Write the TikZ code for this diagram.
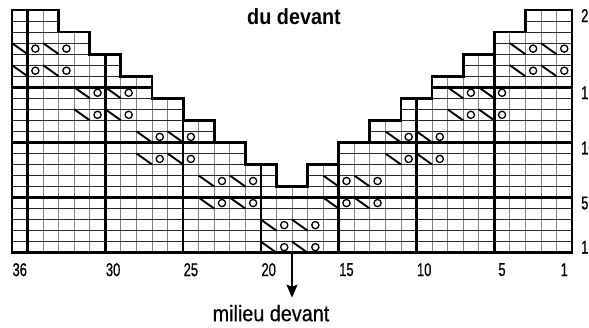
\documentclass[tikz,border=0pt]{standalone}
\usepackage{fontspec}
\setmainfont{Liberation Sans}
\newfontfamily\condfont{Liberation Sans}[FakeStretch=0.7, FakeBold=0.6]
\newfontfamily\midfont{Liberation Sans}[FakeStretch=0.9]
\newfontfamily\capfont{Liberation Sans}[FakeStretch=0.88, FakeBold=0.5]
\usetikzlibrary{arrows.meta}
\begin{document}
\begin{tikzpicture}[x=15.556pt, y=11.03pt,
  thinv/.style={black!50, line width=0.8pt},
  thinh/.style={black!85, line width=0.7pt},
  thickline/.style={black, line width=2.6pt},
  outline/.style={black, line width=2.8pt, line join=miter},
  dec/.style={black, line width=1.9pt},
  yo/.style={black, line width=1.3pt},
  collabel/.style={font=\condfont\fontsize{18.5}{18.5}\selectfont, inner sep=0pt},
  rowlabel/.style={font=\condfont\fontsize{18.5}{18.5}\selectfont, inner sep=0pt, anchor=west},
  title/.style={font=\midfont\bfseries\fontsize{22}{22}\selectfont, inner sep=0pt, anchor=base},
  caption/.style={font=\capfont\fontsize{22.5}{22.5}\selectfont, inner sep=0pt, anchor=base},
  pointer/.style={black, line width=1.2pt, -{Stealth[length=13pt, width=11pt, inset=2pt]}}
]
\useasboundingbox (-12pt,-74.3pt) rectangle (577pt,252.7pt);
\begin{scope}
\clip (0,0) -- (0,22) -- (3,22) -- (3,20) -- (5,20) -- (5,18) -- (7,18) -- (7,16) -- (9,16) -- (9,14) -- (11,14) -- (11,12) -- (13,12) -- (13,10) -- (15,10) -- (15,8) -- (17,8) -- (17,6) -- (19,6) -- (19,8) -- (21,8) -- (21,10) -- (23,10) -- (23,12) -- (25,12) -- (25,14) -- (27,14) -- (27,16) -- (29,16) -- (29,18) -- (31,18) -- (31,20) -- (33,20) -- (33,22) -- (36,22) -- (36,0) -- cycle;
\foreach \k in {1,...,35} {\draw[thinv] (\k,0) -- (\k,22);}
\foreach \k in {1,...,21} {\draw[thinh] (0,\k) -- (36,\k);}
\foreach \k in {1,6,11,16,21,26,31} {\draw[thickline] (\k,0) -- (\k,22);}
\foreach \k in {5,10,15} {\draw[thickline] (0,\k) -- (36,\k);}
\end{scope}
\draw[outline] (0,0) -- (0,22) -- (3,22) -- (3,20) -- (5,20) -- (5,18) -- (7,18) -- (7,16) -- (9,16) -- (9,14) -- (11,14) -- (11,12) -- (13,12) -- (13,10) -- (15,10) -- (15,8) -- (17,8) -- (17,6) -- (19,6) -- (19,8) -- (21,8) -- (21,10) -- (23,10) -- (23,12) -- (25,12) -- (25,14) -- (27,14) -- (27,16) -- (29,16) -- (29,18) -- (31,18) -- (31,20) -- (33,20) -- (33,22) -- (36,22) -- (36,0) -- cycle;
\foreach \r/\c in {19/0,17/0,15/4,13/4,11/8,9/8,7/12,5/12,3/16,1/16,7/20,5/20,11/24,9/24,15/28,13/28,19/32,17/32} {
  \draw[dec] (\c,\r) -- ++(1,-1);
  \draw[dec] (\c+2,\r) -- ++(1,-1);
  \draw[yo] (\c+1.5,\r-0.5) circle[radius=3.6pt];
  \draw[yo] (\c+3.5,\r-0.5) circle[radius=3.6pt];
}
\foreach \n/\i in {36/0,30/6,25/11,20/16,15/21,10/26,5/31,1/35} {
  \node[collabel] (col\n) at (\i+0.5,-17pt) {\n};
}
\foreach \n/\r in {1/1,5/5,10/10,15/15,22/22} {
  \node[rowlabel] (row\n) at (569pt,\r-0.5) {\n};
}
\node[title] (title) at (282pt,228pt) {du devant};
\coordinate (mtop) at (18,0);
\coordinate (mbot) at (18,-45pt);
\draw[pointer] (mtop) -- (mbot);
\node[caption] (milieu) at (259pt,-68.5pt) {milieu devant};
\end{tikzpicture}
\end{document}
